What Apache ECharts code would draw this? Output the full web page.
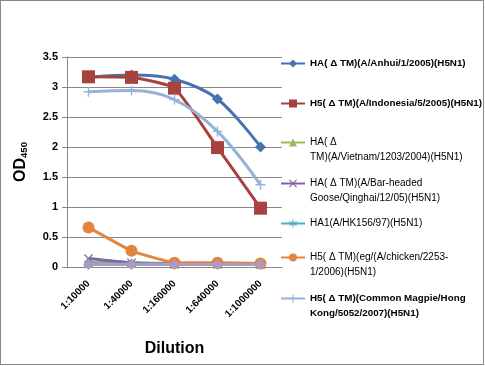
<!DOCTYPE html>
<html><head><meta charset="utf-8">
<script src="https://cdn.jsdelivr.net/npm/echarts@6/dist/echarts.min.js"></script>
<style>
html,body{margin:0;padding:0;background:#fff;}
#frame{position:absolute;left:0;top:0;width:484px;height:365px;border:1px solid #888;box-sizing:border-box;}
#c{position:absolute;left:0;top:0;width:485px;height:366px;}
</style></head>
<body><div id="c"></div><div id="frame"></div>
<script>
const categories = ['1:10000','1:40000','1:160000','1:640000','1:1000000'];
const seriesNames = [
  'HA(\u0394TM)(A/Anhui/1/2005)(H5N1)',
  'H5(\u0394TM)(A/Indonesia/5/2005)(H5N1)',
  'HA(\u0394TM)(A/Vietnam/1203/2004)(H5N1)',
  'HA(\u0394TM)(A/Bar-headed Goose/Qinghai/12/05)(H5N1)',
  'HA1(A/HK156/97)(H5N1)',
  'H5(\u0394TM)(eg/(A/chicken/2253-1/2006)(H5N1)',
  'H5(\u0394TM)(Common Magpie/Hong Kong/5052/2007)(H5N1)'
];
const legendLabels = [
  'HA( \u0394 TM)(A/Anhui/1/2005)(H5N1)',
  'H5( \u0394 TM)(A/Indonesia/5/2005)(H5N1)',
  '\nHA( \u0394\nTM)(A/Vietnam/1203/2004)(H5N1)',
  '\nHA( \u0394 TM)(A/Bar-headed\nGoose/Qinghai/12/05)(H5N1)',
  'HA1(A/HK156/97)(H5N1)',
  '\nH5( \u0394 TM)(eg/(A/chicken/2253-\n1/2006)(H5N1)',
  '\nH5( \u0394 TM)(Common Magpie/Hong\nKong/5052/2007)(H5N1)'
];
const anhui     = [3.16, 3.20, 3.13, 2.80, 2.00];
const indonesia = [3.17, 3.16, 2.98, 1.99, 0.98];
const vietnam   = [0.08, 0.07, 0.06, 0.06, 0.06];
const barHeaded = [0.14, 0.07, 0.05, 0.05, 0.04];
const hk156     = [0.05, 0.05, 0.05, 0.05, 0.05];
const chicken   = [0.66, 0.27, 0.07, 0.07, 0.06];
const magpie    = [2.92, 2.94, 2.79, 2.26, 1.37];
const extra     = [0.04, 0.04, 0.04, 0.04, 0.04];
const yTicks = {min:0, max:3.5, interval:0.5};

const colors = ['#4572B0','#A8423F','#9BBB59','#8064A2','#4BACC6','#E3853B','#95B3D7','#A99BC4'];
const PLUS = 'path://M4.3,0 L5.7,0 L5.7,4.3 L10,4.3 L10,5.7 L5.7,5.7 L5.7,10 L4.3,10 L4.3,5.7 L0,5.7 L0,4.3 L4.3,4.3 Z';
const XS = 'path://M1,0 L5,4 L9,0 L10,1 L6,5 L10,9 L9,10 L5,6 L1,10 L0,9 L4,5 L0,1 Z';
const STAR = 'path://M4.4,0 L5.6,0 L5.6,3.6 L8.8,1.8 L9.4,2.8 L6.2,4.6 L6.2,5.4 L9.4,7.2 L8.8,8.2 L5.6,6.4 L5.6,10 L4.4,10 L4.4,6.4 L1.2,8.2 L0.6,7.2 L3.8,5.4 L3.8,4.6 L0.6,2.8 L1.2,1.8 L4.4,3.6 Z';

const FONT = 'Liberation Sans';
const datas = [anhui, indonesia, vietnam, barHeaded, hk156, chicken, magpie, extra];
const symbols = ['diamond','rect','triangle', XS, STAR,'circle', PLUS,'diamond'];
const symSizes = [11, 13, 10, 9, 9, 12, 10, 11];
const smooths = [0.35, 0.15, 0.2, 0.2, 0.2, 0.1, 0.35, 0];

const series = datas.map((d, i) => ({
  name: i < 7 ? seriesNames[i] : 'extra',
  type: 'line',
  data: d,
  smooth: smooths[i],
  symbol: symbols[i],
  symbolSize: symSizes[i],
  showAllSymbol: true,
  lineStyle: {color: colors[i], width: 3},
  itemStyle: {color: colors[i]},
  emphasis: {disabled: true},
  animation: false,
  z: 2 + i
}));

const legendTops = [56, 96, 120, 161, 216, 235, 276];
const bolds = [true, true, false, false, false, false, true];
const legends = seriesNames.map((n, i) => ({
  data: [n],
  left: 280,
  top: legendTops[i],
  padding: 0,
  itemWidth: 24,
  itemHeight: 10,
  selectedMode: false,
  formatter: () => legendLabels[i],
  textStyle: {fontFamily: FONT, fontSize: bolds[i] ? 9.8 : 10, fontWeight: bolds[i] ? 'bold' : 'normal', color: '#000', lineHeight: 15}
}));

const chart = echarts.init(document.getElementById('c'), null, {renderer: 'canvas'});
chart.setOption({
  animation: false,
  color: colors,
  grid: {left: 67, top: 57, right: 203, bottom: 99, containLabel: false},
  legend: legends,
  xAxis: {
    type: 'category',
    data: categories,
    boundaryGap: true,
    name: 'Dilution',
    nameLocation: 'middle',
    nameGap: 74,
    nameTextStyle: {fontFamily: FONT, fontSize: 16, fontWeight: 'bold', color: '#000'},
    axisLine: {lineStyle: {color: '#888', width: 1}},
    axisTick: {show: false},
    axisLabel: {rotate: 45, fontFamily: FONT, fontSize: 10, fontWeight: 'bold', color: '#000', margin: 15}
  },
  yAxis: {
    type: 'value',
    min: yTicks.min, max: yTicks.max, interval: yTicks.interval,
    name: '{a|OD}{b|450}',
    nameLocation: 'middle',
    nameRotate: 90,
    nameGap: 38,
    nameTextStyle: {
      rich: {
        a: {fontFamily: FONT, fontSize: 16, fontWeight: 'bold', color: '#000'},
        b: {fontFamily: FONT, fontSize: 9.5, fontWeight: 'bold', color: '#000', padding: [7,0,0,0]}
      }
    },
    axisLine: {show: true, lineStyle: {color: '#888', width: 1}},
    axisTick: {show: true, length: 5, lineStyle: {color: '#888'}},
    axisLabel: {fontFamily: FONT, fontSize: 11, fontWeight: 'bold', color: '#000', margin: 9},
    splitLine: {lineStyle: {color: '#888', width: 1}}
  },
  series: series
});
</script></body></html>
